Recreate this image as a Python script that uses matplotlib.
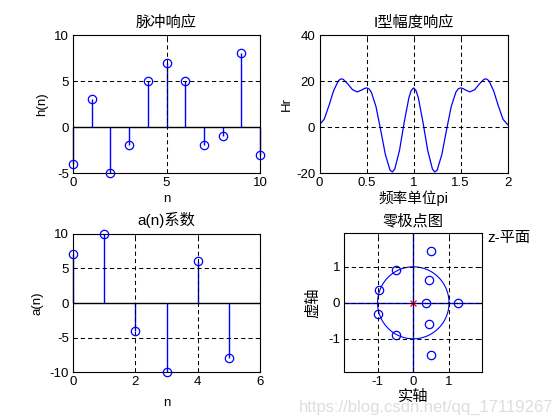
import matplotlib
matplotlib.use("Agg")
import matplotlib.pyplot as plt
import numpy as np

plt.rcParams['font.family'] = ['Liberation Sans', 'Noto Sans CJK SC', 'DejaVu Sans']
plt.rcParams['axes.unicode_minus'] = False

# ---- data ----
n_h = [0, 1, 2, 3, 4, 5, 6, 7, 8, 9, 10]
h_vals = [-4, 3, -5, -2, 5, 7, 5, -2, -1, 8, -3]

n_a = [0, 1, 2, 3, 4, 5]
a_vals = [7, 10, -4, -10, 6, -8]

w_pi = [0, 0.05, 0.1, 0.15, 0.2, 0.225, 0.25, 0.3, 0.35, 0.4, 0.45, 0.475, 0.5,
        0.525, 0.55, 0.6, 0.65, 0.7, 0.75, 0.775, 0.8, 0.85, 0.9, 0.95, 0.975, 1.0,
        1.025, 1.05, 1.1, 1.15, 1.2, 1.225, 1.25, 1.3, 1.35, 1.4, 1.45, 1.475, 1.5,
        1.525, 1.55, 1.6, 1.65, 1.7, 1.75, 1.775, 1.8, 1.85, 1.9, 1.95, 2.0]
Hr_vals = [1.0, 3.36, 9.25, 15.80, 20.09, 20.89, 20.80, 18.77, 16.26, 15.27, 16.11, 16.71, 17.0,
           16.60, 15.21, 8.91, -1.26, -12.01, -18.80, -19.55, -18.27, -10.21, 1.99, 12.74, 15.90, 17.0,
           15.90, 12.74, 1.99, -10.21, -18.27, -19.55, -18.80, -12.01, -1.26, 8.91, 15.21, 16.60, 17.0,
           16.71, 16.11, 15.27, 16.26, 18.77, 20.80, 20.89, 20.09, 15.80, 9.25, 3.36, 1.0]

zeros_re = [0.49, 0.49, 0.45, 0.45, 0.36, 1.24, -0.48, -0.48, -0.96, -0.98]
zeros_im = [1.44, -1.44, 0.62, -0.60, 0.0, 0.0, 0.92, -0.90, 0.35, -0.31]
poles_re = [0.0]
poles_im = [0.0]

BLUE = (0, 0, 1)
GRID_LS = (0, (4, 3))
FS = 9.5
TFS = 11

fig = plt.figure(figsize=(5.6, 4.2), dpi=100)
W, H = 560.0, 420.0

def px_axes(l, t, r, b):
    return fig.add_axes([l / W, 1 - b / H, (r - l) / W, (b - t) / H])

def style(ax):
    ax.tick_params(direction='in', length=3, width=0.6, labelsize=FS, top=True, right=True, pad=3)
    for s in ax.spines.values():
        s.set_linewidth(0.8)
    ax.set_axisbelow(False)

def grid(ax):
    ax.grid(True, color='k', linestyle=GRID_LS, linewidth=0.75)

def stem(ax, x, y):
    ml, sl, bl = ax.stem(x, y, basefmt=' ')
    plt.setp(sl, color=BLUE, linewidth=1.0, clip_on=False)
    plt.setp(ml, color=BLUE, markerfacecolor='none', markersize=6, markeredgewidth=0.9,
             clip_on=False, zorder=5)
    ax.axhline(0, color='k', linewidth=1.0, zorder=1.5)

# ---- impulse response ----
ax1 = px_axes(73, 35, 260, 173)
grid(ax1)
stem(ax1, n_h, h_vals)
ax1.set_xlim(0, 10)
ax1.set_ylim(-5, 10)
ax1.set_xticks([0, 5, 10])
ax1.set_yticks([-5, 0, 5, 10])
ax1.set_title('脉冲响应', fontsize=TFS, pad=6)
ax1.set_xlabel('n', fontsize=FS, labelpad=3)
ax1.set_ylabel('h(n)', fontsize=FS, labelpad=4)
style(ax1)

# ---- amplitude response ----
ax2 = px_axes(319.5, 35, 507.7, 173)
grid(ax2)
ax2.plot(w_pi, Hr_vals, color=BLUE, linewidth=0.9)
ax2.set_xlim(0, 2)
ax2.set_ylim(-20, 40)
ax2.set_xticks([0, 0.5, 1, 1.5, 2])
ax2.set_xticklabels(['0', '0.5', '1', '1.5', '2'])
ax2.set_yticks([-20, 0, 20, 40])
ax2.set_title('I型幅度响应', fontsize=TFS, pad=6)
ax2.set_xlabel('频率单位pi', fontsize=10.5, labelpad=1)
ax2.set_ylabel('Hr', fontsize=FS, labelpad=2)
style(ax2)

# ---- a(n) ----
ax3 = px_axes(73, 233.7, 260, 372.3)
grid(ax3)
stem(ax3, n_a, a_vals)
ax3.set_xlim(0, 6)
ax3.set_ylim(-10, 10)
ax3.set_xticks([0, 2, 4, 6])
ax3.set_yticks([-10, -5, 0, 5, 10])
ax3.set_title('a(n)系数', fontsize=TFS, pad=6)
ax3.set_xlabel('n', fontsize=FS, labelpad=6)
ax3.set_ylabel('a(n)', fontsize=FS, labelpad=4)
style(ax3)

# ---- zero-pole plot ----
ax4 = px_axes(344.3, 233.3, 482.3, 372.3)
grid(ax4)
lim = 1.93
ax4.axhline(0, color=BLUE, linewidth=1.0)
ax4.axvline(0, color=BLUE, linewidth=1.0)
t = np.linspace(0, 2 * np.pi, 200)
ax4.plot(np.cos(t), np.sin(t), color=BLUE, linewidth=0.8)
ax4.plot(zeros_re, zeros_im, 'o', color=BLUE, markerfacecolor='none', markersize=6, markeredgewidth=0.9)
ax4.plot(poles_re, poles_im, 'x', color='red', markersize=4, markeredgewidth=0.9)
ax4.set_xlim(-lim, lim)
ax4.set_ylim(-lim, lim)
ax4.set_xticks([-1, 0, 1])
ax4.set_yticks([-1, 0, 1])
ax4.set_title('零极点图', fontsize=TFS, pad=6)
ax4.set_xlabel('实轴', fontsize=11, labelpad=1)
ax4.set_ylabel('虚轴', fontsize=11, labelpad=6)
style(ax4)
fig.text(487 / W, 1 - 238 / H, 'z-平面', fontsize=11, va='center', ha='left')

# watermark
fig.text(553 / W, 1 - 407 / H, 'https://blog.csdn.net/qq_17119267', fontsize=12,
         color='#dedede', ha='right', va='center', zorder=0)

fig.savefig('out.png', dpi=100)
